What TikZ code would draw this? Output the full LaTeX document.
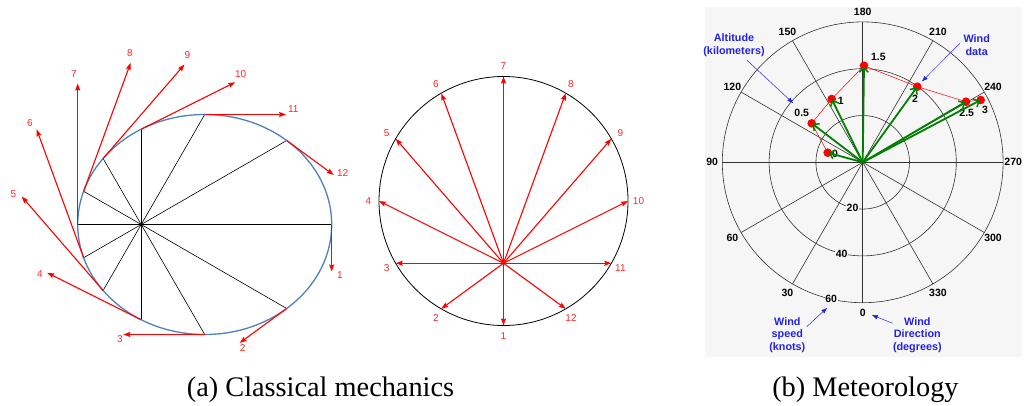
\documentclass[tikz,border=0pt]{standalone}
\usepackage{fontspec}
\setmainfont{Liberation Serif}
\newfontfamily\lsans{Liberation Sans}
\usetikzlibrary{calc,arrows.meta}
\definecolor{ellblue}{RGB}{79,129,189}
\definecolor{panelbg}{RGB}{246,246,246}
\definecolor{dgreen}{RGB}{0,128,0}
\definecolor{annblue}{RGB}{35,35,225}
\definecolor{lred}{RGB}{255,40,40}
\definecolor{gridc}{RGB}{50,50,50}
\definecolor{arrred}{RGB}{255,0,0}
\begin{document}
\begin{tikzpicture}[x=1pt,y=1pt,
  vec/.style={draw=arrred, line width=1.1pt, -{Stealth[length=7pt,width=5pt,inset=1pt,fill=arrred]}},
  spoke/.style={black, line width=0.6pt},
  lab/.style={text=lred, font=\lsans\fontsize{10}{11}\selectfont, inner sep=0pt},
  polargrid/.style={gridc, line width=0.6pt},
  dirlab/.style={font=\lsans\bfseries\fontsize{10.5}{12}\selectfont, inner sep=0pt},
  speedlab/.style={font=\lsans\bfseries\fontsize{10.5}{12}\selectfont, inner sep=0.6pt, fill=panelbg},
  datalab/.style={font=\lsans\bfseries\fontsize{10.5}{12}\selectfont, inner sep=0pt},
  reddot/.style={circle, fill=red, inner sep=0pt, minimum size=8.6pt},
  windarrow/.style={dgreen, line width=1.8pt, -{Straight Barb[length=4.5pt,width=9pt,line width=1.5pt]}, shorten >=1pt},
  ann/.style={text=annblue, font=\lsans\bfseries\fontsize{10.8}{12.7}\selectfont, align=center, inner sep=0pt},
  annarrow/.style={annblue, line width=0.5pt, -{Latex[length=6pt,width=4.5pt]}},
  captext/.style={font=\fontsize{28.3}{32}\selectfont, inner sep=0pt, anchor=base}
]
\useasboundingbox (0,0) rectangle (1027,405);
\fill[white] (0,0) rectangle (1027,405);

% ---------- (a) left: orbit ----------
\coordinate (F) at (141.2,180.5);
\coordinate (EC) at (204.7,180.5);
\foreach \k in {1,...,12}{
  \pgfmathsetmacro\ang{-(\k-1)*30}
  \pgfmathsetmacro\rad{95.25/(1-0.5*cos(\ang))}
  \pgfmathsetmacro\vx{94*sin(\ang)}
  \pgfmathsetmacro\vy{94*(0.5-cos(\ang))}
  \coordinate (P\k) at ($(F)+(\ang:\rad)$);
  \coordinate (V\k) at ($(P\k)+(\vx,\vy)$);
}
\foreach \k in {1,...,12} \draw[spoke] (F) -- (P\k);
\draw[ellblue, line width=1.3pt] (EC) ellipse [x radius=127, y radius=110];
\foreach \k in {1,...,12} \draw[vec] (P\k) -- (V\k);
\fill (F) circle (1.5);
\foreach \k/\x/\y in {1/340/130, 2/242.7/56.7, 3/120/66, 4/40/130.7, 5/13.3/211,
  6/30/282.3, 7/74/330.7, 8/130/352.3, 9/187.3/350, 10/240.7/330.7,
  11/293.3/296, 12/342.7/232.3}
  \node[lab] (L\k) at (\x,\y) {\k};

% ---------- (a) middle: hodograph ----------
\coordinate (O) at (503.5,204);
\coordinate (H) at (503.5,141.75);
\draw[black, line width=0.8pt] (O) circle (124.5);
\foreach \k in {1,...,12}{
  \pgfmathsetmacro\ang{-(\k-1)*30-90}
  \coordinate (Q\k) at ($(O)+(\ang:124.5)$);
  \node[lab] (M\k) at ($(O)+(\ang:135)$) {\k};
  \draw[vec] (H) -- (Q\k);
}

% ---------- (b) meteorology ----------
\fill[panelbg] (705,48) rectangle (1022,398);
\coordinate (C) at (862.7,242.7);
\foreach \D in {0,30,...,330}{
  \draw[polargrid] (C) -- ($(C)+(-90-\D:140.4)$);
  \node[dirlab] (dir\D) at ($(C)+(-90-\D:150.5)$) {\D};
}
\foreach \r in {46.8,93.6,140.4} \draw[polargrid] (C) circle (\r);
\node[speedlab] (s20) at ($(C)+(-102.5:46.8)$) {20};
\node[speedlab] (s40) at ($(C)+(-103:93.6)$) {40};
\node[speedlab] (s60) at ($(C)+(-103:140.4)$) {60};

\coordinate (w0) at (827.7,252.3);
\coordinate (w05) at (811.7,281.7);
\coordinate (w1) at (831.7,306);
\coordinate (w15) at (864,339.3);
\coordinate (w2) at (917.3,318.3);
\coordinate (w25) at (966,303.3);
\coordinate (w3) at (980.7,305);
\draw[red, line width=0.5pt] (w0) -- (w05) -- (w1) -- (w15) -- (w2) -- (w25) -- (w3);
\foreach \p in {w0,w05,w1,w15,w2,w25,w3} \node[reddot] (n\p) at (\p) {};
\node[datalab] (t0) at (835,251) {0};
\node[datalab] (t05) at (801.7,292.3) {0.5};
\node[datalab] (t1) at (840.7,304.3) {1};
\node[datalab] (t15) at (878.3,347.7) {1.5};
\node[datalab] (t2) at (915,305.7) {2};
\node[datalab] (t25) at (966.7,291.7) {2.5};
\node[datalab] (t3) at (985,295) {3};
\foreach \p in {w0,w05,w1,w15,w2,w25,w3} \draw[windarrow] (C) -- (\p);

\node[ann] (alt) at (734,360) {Altitude\\(kilometers)};
\node[ann] (wdata) at (976.7,360) {Wind\\data};
\node[ann] (wspeed) at (787.3,70) {Wind\\speed\\(knots)};
\node[ann] (wdir) at (917.3,70) {Wind\\Direction\\(degrees)};
\coordinate (altS) at (746.7,345);
\coordinate (altE) at (793.3,301.7);
\coordinate (wdS) at (960,361.7);
\coordinate (wdE) at (921.7,323.3);
\coordinate (wsS) at (806.7,78.3);
\coordinate (wsE) at (827.3,97.3);
\coordinate (wrS) at (892.7,81.7);
\coordinate (wrE) at (871.7,90);
\draw[annarrow] (altS) -- (altE);
\draw[annarrow] (wdS) -- (wdE);
\draw[annarrow] (wsS) -- (wsE);
\draw[annarrow] (wrS) -- (wrE);

% ---------- captions ----------
\node[captext] (capa) at (320.5,9) {(a) Classical mechanics};
\node[captext] (capb) at (865.4,9) {(b) Meteorology};
\end{tikzpicture}
\end{document}
